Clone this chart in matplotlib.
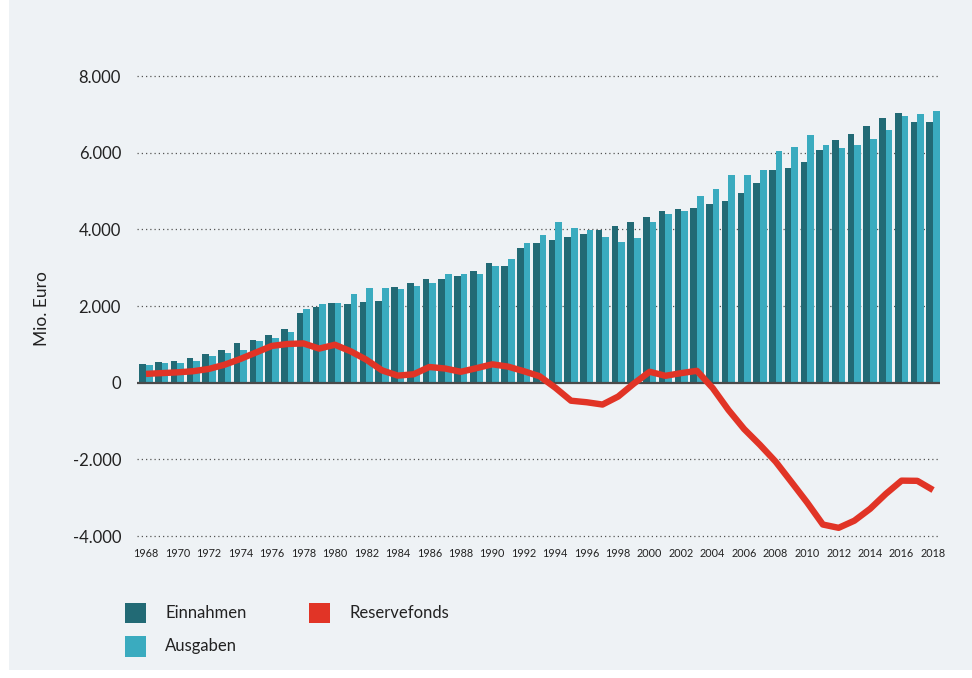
import matplotlib
matplotlib.use("Agg")
import matplotlib.pyplot as plt
from matplotlib.patches import Rectangle
import numpy as np

# ---------------- data ----------------
years = list(range(1968, 2019))
einnahmen = [478, 530, 564, 650, 737, 857, 1031, 1117, 1239, 1413,
             1816, 1966, 2090, 2052, 2096, 2138, 2488, 2608, 2696, 2696,
             2782, 2912, 3129, 3043, 3504, 3635, 3721, 3805, 3890, 3995,
             4099, 4185, 4315, 4490, 4523, 4568, 4654, 4736, 4953, 5208,
             5557, 5599, 5765, 6060, 6320, 6494, 6693, 6911, 7041, 6789,
             6789]
ausgaben = [470, 520, 520, 564, 686, 771, 857, 1075, 1161, 1325,
            1914, 2044, 2090, 2304, 2477, 2477, 2435, 2521, 2608, 2826,
            2826, 2826, 3043, 3217, 3635, 3850, 4188, 4047, 3977, 3802,
            3682, 3768, 4185, 4401, 4490, 4870, 5044, 5430, 5430, 5557,
            6034, 6156, 6450, 6190, 6112, 6190, 6364, 6581, 6963, 7015,
            7094]
reservefonds = [230, 250, 270, 300, 360, 470, 620, 790, 960, 1010,
                1025, 890, 990, 820, 600, 320, 185, 220, 410, 370,
                285, 380, 480, 420, 300, 170, -130, -470, -510, -570,
                -360, -20, 285, 180, 250, 310, -140, -710, -1210, -1620,
                -2060, -2590, -3125, -3700, -3786, -3600, -3290, -2900, -2555, -2560,
                -2800]
y_ticks = [-4000, -2000, 0, 2000, 4000, 6000, 8000]
y_tick_labels = ["-4.000", "-2.000", "0", "2.000", "4.000", "6.000", "8.000"]
x_tick_years = years[::2]
legend_labels = ["Einnahmen", "Ausgaben", "Reservefonds"]

# ---------------- style ----------------
plt.rcParams['font.family'] = ['Lato', 'DejaVu Sans']
dark = '#226a75'
light = '#3aabbf'
red = '#e13426'
bg = '#eef2f5'
txt = '#222222'

W, H = 972, 678
fig = plt.figure(figsize=(W / 100, H / 100), dpi=100)
fig.patch.set_facecolor('white')
fig.add_artist(Rectangle((9 / W, 8 / H), (W - 9) / W, (H - 8) / H,
                         transform=fig.transFigure, facecolor=bg,
                         edgecolor='none', zorder=-10))

ax = fig.add_axes([137 / W, 1 - 543.7 / H, 803 / W, 483 / H])
ax.set_facecolor('none')
ax.set_xlim(1967.43, 2018.44)
ax.set_ylim(-4200, 8400)

for v in y_ticks:
    if v == 0:
        continue
    ax.axhline(v, color='#555555', lw=0.9, ls=(0, (1, 2.4)), zorder=0)

x = np.array(years, dtype=float)
bw = 0.42
ax.bar(x - bw / 2, einnahmen, bw, color=dark, zorder=2, linewidth=0)
ax.bar(x + bw / 2, ausgaben, bw, color=light, zorder=2, linewidth=0)
ax.axhline(0, color='#4a4a4a', lw=1.6, zorder=3)
ax.plot(years, reservefonds, color=red, lw=4.6, solid_joinstyle='round',
        solid_capstyle='butt', zorder=4)

for s in ax.spines.values():
    s.set_visible(False)
ax.set_yticks(y_ticks)
ax.set_yticklabels(y_tick_labels, fontsize=12, color=txt)
ax.set_xticks(x_tick_years)
ax.set_xticklabels([str(y) for y in x_tick_years], fontsize=7.8, color=txt)
ax.tick_params(axis='y', length=0, pad=11.5)
ax.tick_params(axis='x', length=0, pad=3.4)

fig.text(41.7 / W, 1 - 309 / H, 'Mio. Euro', rotation=90, ha='center',
         va='center', fontsize=12.5, color=txt)

# ---------------- legend ----------------
leg_items = [(legend_labels[0], dark, 125, 602.7, 165),
             (legend_labels[1], light, 125, 636.0, 165),
             (legend_labels[2], red, 309, 602.7, 349)]
for label, col, lx, ly, tx in leg_items:
    fig.add_artist(Rectangle((lx / W, 1 - (ly + 20.6) / H), 21 / W, 20.6 / H,
                             transform=fig.transFigure, facecolor=col,
                             edgecolor='none'))
    fig.text(tx / W, 1 - (ly + 10.3) / H, label, ha='left', va='center',
             fontsize=12, color=txt)

fig.savefig('out.png', dpi=100, facecolor=fig.get_facecolor())
